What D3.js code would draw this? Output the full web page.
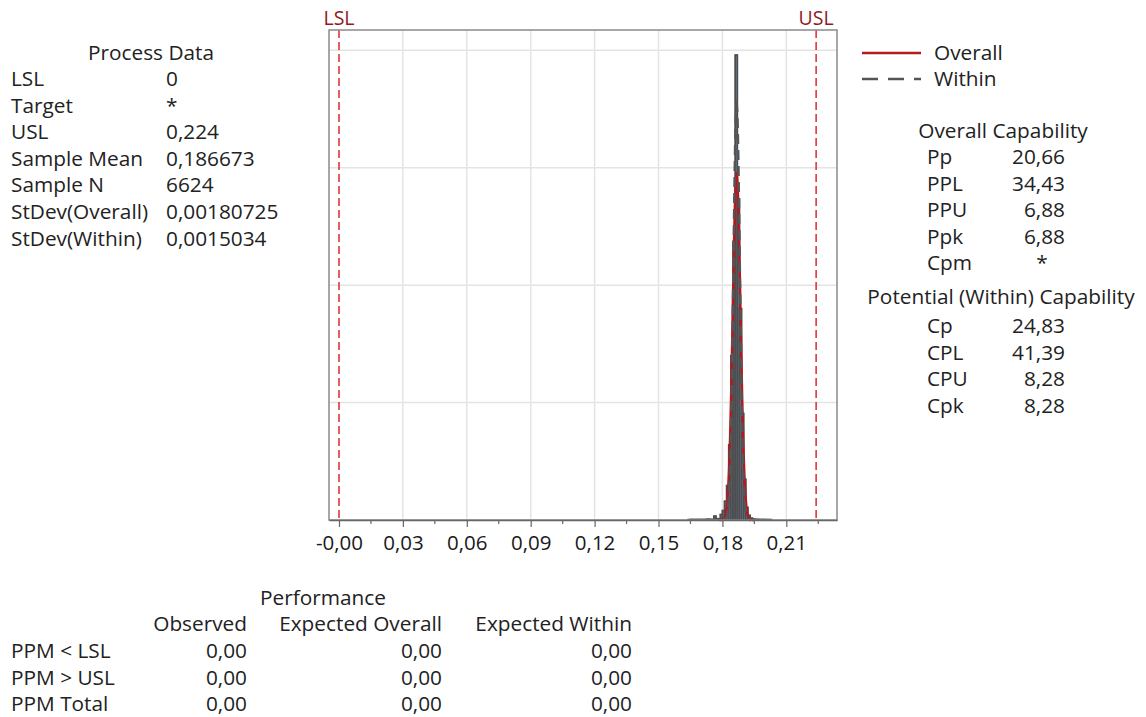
<!DOCTYPE html>
<html>
<head>
<meta charset="utf-8">
<script src="https://cdn.jsdelivr.net/npm/d3@7"></script>
<style>
  body { margin: 0; background: #fff; }
  svg text { font-family: "Open Sans", "Noto Sans", sans-serif; fill: #222; }
</style>
</head>
<body>
<div id="chart"></div>
<script>
// Process capability report data
const LSL = 0;
const USL = 0.224;
const sampleMean = 0.186673;
const sdOverall = 0.00180725;
const sdWithin = 0.0015034;

// histogram bins (start of each 0.001-wide bin) and densities
const binStarts = [0.164, 0.165, 0.166, 0.167, 0.168, 0.169, 0.170, 0.171, 0.172, 0.173,
    0.174, 0.175, 0.176, 0.177, 0.178, 0.179, 0.180, 0.181, 0.182, 0.183,
    0.184, 0.185, 0.186, 0.187, 0.188, 0.189, 0.190, 0.191, 0.192, 0.193,
    0.194, 0.195, 0.196, 0.197, 0.198, 0.199, 0.200, 0.201, 0.202];
const binDensity = [0.2, 0.3, 0.2, 0.3, 0.2, 0.3, 0.2, 0.3, 0.3, 0.5,
    0.3, 0.3, 2.5, 0.8, 0.6, 3.5, 6, 12, 22, 48,
    105, 178, 297, 205, 135, 68, 26, 8, 3, 1.2,
    0.6, 0.4, 0.3, 0.3, 0.2, 0.3, 0.2, 0.2, 0.2];
const binWidth = 0.001;

const xTicks = [0, 0.03, 0.06, 0.09, 0.12, 0.15, 0.18, 0.21];
const xTickLabels = ['-0,00', '0,03', '0,06', '0,09', '0,12', '0,15', '0,18', '0,21'];
const yGrid = [75, 150, 225, 300];

const processLabels = ['LSL', 'Target', 'USL', 'Sample Mean', 'Sample N', 'StDev(Overall)', 'StDev(Within)'];
const processValues = ['0', '*', '0,224', '0,186673', '6624', '0,00180725', '0,0015034'];

const overallLabels = ['Pp', 'PPL', 'PPU', 'Ppk', 'Cpm'];
const overallValues = ['20,66', '34,43', '6,88', '6,88', '*'];
const withinLabels = ['Cp', 'CPL', 'CPU', 'Cpk'];
const withinValues = ['24,83', '41,39', '8,28', '8,28'];

const perfColumns = ['Observed', 'Expected Overall', 'Expected Within'];
const perfRows = ['PPM < LSL', 'PPM > USL', 'PPM Total'];
const perfValues = [
    ['0,00', '0,00', '0,00'],
    ['0,00', '0,00', '0,00'],
    ['0,00', '0,00', '0,00']
];

const W = 1146, H = 717;
const plot = { left: 329, right: 837, top: 30, bottom: 520 };
const fs = 20.8;

const svg = d3.select('#chart').append('svg')
    .attr('width', W).attr('height', H);

const x = d3.scaleLinear()
    .domain([-0.00469, 0.2338])
    .range([plot.left, plot.right]);
const y = d3.scaleLinear()
    .domain([0, 313])
    .range([plot.bottom, plot.top]);

// gridlines
svg.append('g').selectAll('line')
    .data(xTicks.slice(1))
    .join('line')
    .attr('x1', d => x(d)).attr('x2', d => x(d))
    .attr('y1', plot.top).attr('y2', plot.bottom)
    .attr('stroke', '#e4e4e4').attr('stroke-width', 1.5);
svg.append('g').selectAll('line')
    .data(yGrid)
    .join('line')
    .attr('x1', plot.left).attr('x2', plot.right)
    .attr('y1', d => y(d)).attr('y2', d => y(d))
    .attr('stroke', '#e4e4e4').attr('stroke-width', 1.5);

// histogram bars
svg.append('g').selectAll('rect')
    .data(binStarts.map((s, i) => ({ s, d: binDensity[i] })))
    .join('rect')
    .attr('x', d => x(d.s))
    .attr('width', d => x(d.s + binWidth) - x(d.s))
    .attr('y', d => y(d.d))
    .attr('height', d => y(0) - y(d.d))
    .attr('fill', '#6f9bd1')
    .attr('stroke', '#4d4d4d')
    .attr('stroke-width', 1.8);

// fitted normal curves from the reported mean and standard deviations
function normalCurve(mu, sd) {
    const pts = d3.range(-4.5, 4.501, 0.05).map(z => mu + z * sd);
    return pts.map(v => [v, Math.exp(-0.5 * ((v - mu) / sd) ** 2) / (sd * Math.sqrt(2 * Math.PI))]);
}
const line = d3.line().x(d => x(d[0])).y(d => y(d[1]));

svg.append('path')
    .datum(normalCurve(sampleMean, sdOverall))
    .attr('d', line)
    .attr('fill', 'none')
    .attr('stroke', '#b3191f')
    .attr('stroke-width', 2.5);
svg.append('path')
    .datum(normalCurve(sampleMean, sdWithin))
    .attr('d', line)
    .attr('fill', 'none')
    .attr('stroke', '#555555')
    .attr('stroke-width', 2.5)
    .attr('stroke-dasharray', '10,6');

// spec limits
[[LSL, 'LSL'], [USL, 'USL']].forEach(([v, name]) => {
    svg.append('line')
        .attr('x1', x(v)).attr('x2', x(v))
        .attr('y1', plot.top).attr('y2', plot.bottom)
        .attr('stroke', '#e0282d')
        .attr('stroke-width', 1.5)
        .attr('stroke-dasharray', '8,4');
    svg.append('text')
        .attr('x', x(v)).attr('y', 25)
        .attr('text-anchor', 'middle')
        .style('font-size', '19.5px')
        .style('fill', '#8f1a1e')
        .text(name);
});

// frame
svg.append('rect')
    .attr('x', plot.left).attr('y', plot.top)
    .attr('width', plot.right - plot.left)
    .attr('height', plot.bottom - plot.top)
    .attr('fill', 'none')
    .attr('stroke', '#8a8a8a')
    .attr('stroke-width', 1.5);

// x axis
const minor = d3.range(0, 0.2301, 0.015).filter((d, i) => i % 2 === 1);
svg.append('g').selectAll('line')
    .data(minor)
    .join('line')
    .attr('x1', d => x(d)).attr('x2', d => x(d))
    .attr('y1', plot.bottom).attr('y2', plot.bottom + 4)
    .attr('stroke', '#666').attr('stroke-width', 1.2);

const xAxis = svg.append('g')
    .attr('transform', `translate(0,${plot.bottom})`)
    .call(d3.axisBottom(x).tickValues(xTicks).tickFormat((d, i) => xTickLabels[i]).tickSize(7).tickSizeOuter(0));
xAxis.select('.domain').attr('stroke', '#666').attr('stroke-width', 1.5);
xAxis.selectAll('.tick line').attr('stroke', '#666').attr('stroke-width', 1.2);
xAxis.selectAll('.tick text')
    .attr('y', 15)
    .style('font-family', '"Open Sans", sans-serif')
    .style('font-size', '20.5px')
    .style('fill', '#1a1a1a');

// process data table
svg.append('text').attr('x', 151).attr('y', 60).attr('text-anchor', 'middle')
    .style('font-size', fs + 'px').text('Process Data');
processLabels.forEach((l, i) => {
    const yy = 86 + i * 26.6;
    svg.append('text').attr('x', 11).attr('y', yy).style('font-size', fs + 'px').text(l);
    svg.append('text').attr('x', 166).attr('y', yy).style('font-size', fs + 'px').text(processValues[i]);
});

// legend
svg.append('line').attr('x1', 862).attr('x2', 921).attr('y1', 53).attr('y2', 53)
    .attr('stroke', '#b3191f').attr('stroke-width', 2.5);
svg.append('line').attr('x1', 862).attr('x2', 921).attr('y1', 79).attr('y2', 79)
    .attr('stroke', '#555555').attr('stroke-width', 2.5).attr('stroke-dasharray', '16,10');
svg.append('text').attr('x', 934).attr('y', 60).style('font-size', fs + 'px').text('Overall');
svg.append('text').attr('x', 934).attr('y', 86).style('font-size', fs + 'px').text('Within');

// overall capability
svg.append('text').attr('x', 1003).attr('y', 138).attr('text-anchor', 'middle')
    .style('font-size', fs + 'px').text('Overall Capability');
overallLabels.forEach((l, i) => {
    const yy = 164 + i * 26.6;
    svg.append('text').attr('x', 927).attr('y', yy).style('font-size', fs + 'px').text(l);
    const v = overallValues[i];
    svg.append('text').attr('x', v === '*' ? 1042 : 1065).attr('y', yy)
        .attr('text-anchor', v === '*' ? 'middle' : 'end')
        .style('font-size', fs + 'px').text(v);
});

svg.append('text').attr('x', 1001).attr('y', 304).attr('text-anchor', 'middle')
    .style('font-size', fs + 'px').text('Potential (Within) Capability');
withinLabels.forEach((l, i) => {
    const yy = 333 + i * 26.6;
    svg.append('text').attr('x', 927).attr('y', yy).style('font-size', fs + 'px').text(l);
    svg.append('text').attr('x', 1065).attr('y', yy).attr('text-anchor', 'end')
        .style('font-size', fs + 'px').text(withinValues[i]);
});

// performance table
const colRight = [247, 442, 632];
svg.append('text').attr('x', 323).attr('y', 605).attr('text-anchor', 'middle')
    .style('font-size', fs + 'px').text('Performance');
perfColumns.forEach((c, j) => {
    svg.append('text').attr('x', colRight[j]).attr('y', 631).attr('text-anchor', 'end')
        .style('font-size', fs + 'px').text(c);
});
perfRows.forEach((r, i) => {
    const yy = 658 + i * 26.6;
    svg.append('text').attr('x', 11).attr('y', yy).style('font-size', fs + 'px').text(r);
    perfValues[i].forEach((v, j) => {
        svg.append('text').attr('x', colRight[j]).attr('y', yy).attr('text-anchor', 'end')
            .style('font-size', fs + 'px').text(v);
    });
});
</script>
</body>
</html>
